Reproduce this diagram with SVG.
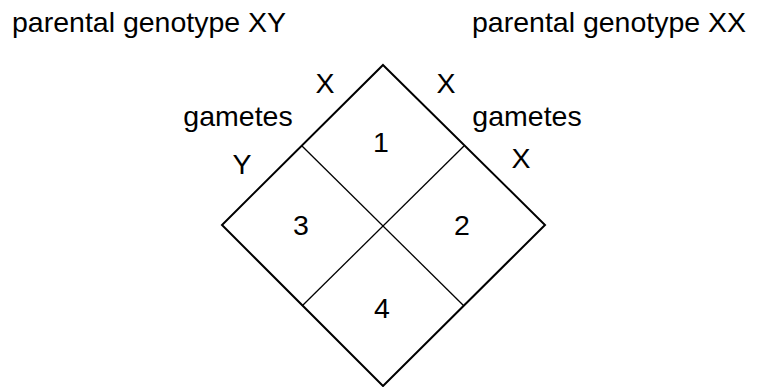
<svg xmlns="http://www.w3.org/2000/svg" width="760" height="387" viewBox="0 0 760 387">
<style>
text{font-family:"Liberation Sans",Arial,sans-serif;font-size:28.5px;fill:#000}
.m{text-anchor:middle}
.outer{fill:none;stroke:#000;stroke-width:2}
.inner{fill:none;stroke:#000;stroke-width:1.3}
</style>
<rect width="760" height="387" fill="#fff"/>
<g id="titles">
<text x="12" y="32">parental genotype XY</text>
<text x="472" y="32">parental genotype XX</text>
</g>
<g id="connectors">
<polygon class="outer" points="383,65 545,225 383,386 222,225"/>
<line class="inner" x1="302" y1="146" x2="464" y2="306"/>
<line class="inner" x1="464" y1="146" x2="302" y2="306"/>
</g>
<g id="labels">
<text class="m" x="325" y="93">X</text>
<text class="m" x="446" y="93">X</text>
<text class="m" x="238" y="126">gametes</text>
<text class="m" x="527" y="126">gametes</text>
<text class="m" x="242" y="174">Y</text>
<text class="m" x="521" y="168">X</text>
</g>
<g id="cell1"><text class="m" x="381" y="152">1</text></g>
<g id="cell2"><text class="m" x="462" y="235">2</text></g>
<g id="cell3"><text class="m" x="301" y="235">3</text></g>
<g id="cell4"><text class="m" x="382" y="318">4</text></g>
</svg>
